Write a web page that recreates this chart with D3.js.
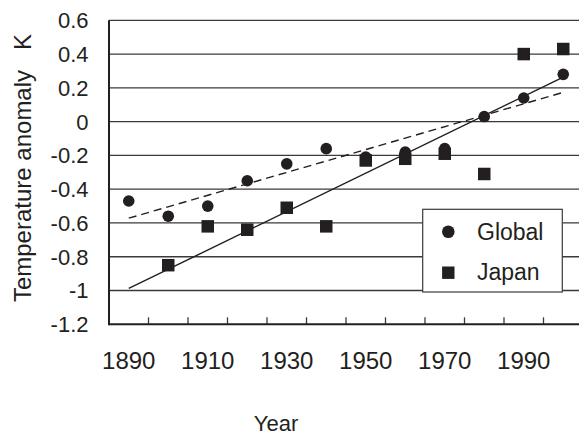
<!DOCTYPE html>
<html>
<head>
<meta charset="utf-8">
<script src="https://cdn.jsdelivr.net/npm/d3@7"></script>
<style>
  body { margin: 0; background: #fff; }
  text { font-family: "Liberation Sans", Arial, sans-serif; fill: #231f20; }
</style>
</head>
<body>
<svg id="chart" width="579" height="436"></svg>
<script>
// categories (one per decade) and the two series
const years = [1890, 1900, 1910, 1920, 1930, 1940, 1950, 1960, 1970, 1980, 1990, 2000];
const globalAnomaly = [-0.47, -0.56, -0.50, -0.35, -0.25, -0.16, -0.21, -0.18, -0.16, 0.03, 0.14, 0.28];
const japanAnomaly = [null, -0.85, -0.62, -0.64, -0.51, -0.62, -0.23, -0.22, -0.19, -0.31, 0.40, 0.43];
const xTickLabels = [1890, 1910, 1930, 1950, 1970, 1990];
const yTicks = [0.6, 0.4, 0.2, 0, -0.2, -0.4, -0.6, -0.8, -1, -1.2];

const svg = d3.select("#chart");
const plotLeft = 109, plotRight = 583, plotTop = 20.3, plotBottom = 324.3;

const x = d3.scaleBand()
  .domain(years)
  .range([plotLeft, plotRight])
  .padding(0);
const cx = yr => x(yr) + x.bandwidth() / 2;

const y = d3.scaleLinear()
  .domain([-1.2, 0.6])
  .range([plotBottom, plotTop]);

// least squares fit, drawn across the whole decade range
function fit(xs, ys) {
  const pts = xs.map((v, i) => [v, ys[i]]).filter(p => p[1] != null);
  const mx = d3.mean(pts, p => p[0]), my = d3.mean(pts, p => p[1]);
  const b = d3.sum(pts, p => (p[0] - mx) * (p[1] - my)) / d3.sum(pts, p => (p[0] - mx) ** 2);
  return v => my + b * (v - mx);
}

// horizontal gridlines
svg.append("g")
  .selectAll("line")
  .data(yTicks.filter(d => d > -1.2))
  .join("line")
  .attr("x1", plotLeft).attr("x2", plotRight)
  .attr("y1", d => y(d)).attr("y2", d => y(d))
  .attr("stroke", "#3a3a3a")
  .attr("stroke-width", 1.3);

// y tick labels
svg.append("g")
  .selectAll("text")
  .data(yTicks)
  .join("text")
  .attr("x", 88.5)
  .attr("y", d => y(d))
  .attr("dy", "0.36em")
  .attr("text-anchor", "end")
  .style("font-size", "22px")
  .text(d => String(+d.toFixed(1)));

// x axis: ticks between categories, pointing inward
const xAxis = svg.append("g");
xAxis.selectAll("line")
  .data(years.slice(1))
  .join("line")
  .attr("x1", d => x(d)).attr("x2", d => x(d))
  .attr("y1", plotBottom).attr("y2", plotBottom - 7)
  .attr("stroke", "#3a3a3a")
  .attr("stroke-width", 1.3);
xAxis.selectAll("text")
  .data(xTickLabels)
  .join("text")
  .attr("x", d => cx(d))
  .attr("y", 369)
  .attr("text-anchor", "middle")
  .style("font-size", "24px")
  .text(d => d);

// axis lines
svg.append("line")
  .attr("x1", plotLeft).attr("x2", plotLeft)
  .attr("y1", plotTop).attr("y2", plotBottom + 1)
  .attr("stroke", "#231f20").attr("stroke-width", 2);
svg.append("line")
  .attr("x1", plotLeft).attr("x2", plotRight)
  .attr("y1", plotBottom).attr("y2", plotBottom)
  .attr("stroke", "#231f20").attr("stroke-width", 2);

// trend lines
const first = years[0], last = years[years.length - 1];
const gFit = fit(years, globalAnomaly);
const jFit = fit(years, japanAnomaly);
svg.append("line")
  .attr("x1", cx(first)).attr("y1", y(gFit(first)))
  .attr("x2", cx(last)).attr("y2", y(gFit(last)))
  .attr("stroke", "#231f20").attr("stroke-width", 1.4)
  .attr("stroke-dasharray", "8,5");
svg.append("line")
  .attr("x1", cx(first)).attr("y1", y(jFit(first)))
  .attr("x2", cx(last)).attr("y2", y(jFit(last)))
  .attr("stroke", "#231f20").attr("stroke-width", 1.4);

// markers
const sq = 12.5;
svg.append("g")
  .selectAll("rect")
  .data(years.map((yr, i) => [yr, japanAnomaly[i]]).filter(d => d[1] != null))
  .join("rect")
  .attr("x", d => cx(d[0]) - sq / 2)
  .attr("y", d => y(d[1]) - sq / 2)
  .attr("width", sq).attr("height", sq)
  .attr("fill", "#231f20");
svg.append("g")
  .selectAll("circle")
  .data(years.map((yr, i) => [yr, globalAnomaly[i]]))
  .join("circle")
  .attr("cx", d => cx(d[0]))
  .attr("cy", d => y(d[1]))
  .attr("r", 5.8)
  .attr("fill", "#231f20");

// legend
const legend = svg.append("g");
legend.append("rect")
  .attr("x", 422.7).attr("y", 209.3)
  .attr("width", 139.6).attr("height", 82.7)
  .attr("fill", "#fff")
  .attr("stroke", "#3a3a3a").attr("stroke-width", 1.2);
legend.append("circle")
  .attr("cx", 448.3).attr("cy", 231.7).attr("r", 6.3)
  .attr("fill", "#231f20");
legend.append("rect")
  .attr("x", 448.3 - 6.2).attr("y", 272.7 - 6.2)
  .attr("width", 12.4).attr("height", 12.4)
  .attr("fill", "#231f20");
legend.append("text")
  .attr("x", 477).attr("y", 239.5)
  .style("font-size", "23px")
  .text("Global");
legend.append("text")
  .attr("x", 477).attr("y", 280)
  .style("font-size", "23px")
  .text("Japan");

// axis titles
svg.append("text")
  .attr("transform", "translate(31,168) rotate(-90)")
  .attr("text-anchor", "middle")
  .style("font-size", "24px")
  .style("white-space", "pre")
  .text("Temperature anomaly   K");
svg.append("text")
  .attr("x", 276)
  .attr("y", 431)
  .attr("text-anchor", "middle")
  .style("font-size", "22px")
  .text("Year");
</script>
</body>
</html>
